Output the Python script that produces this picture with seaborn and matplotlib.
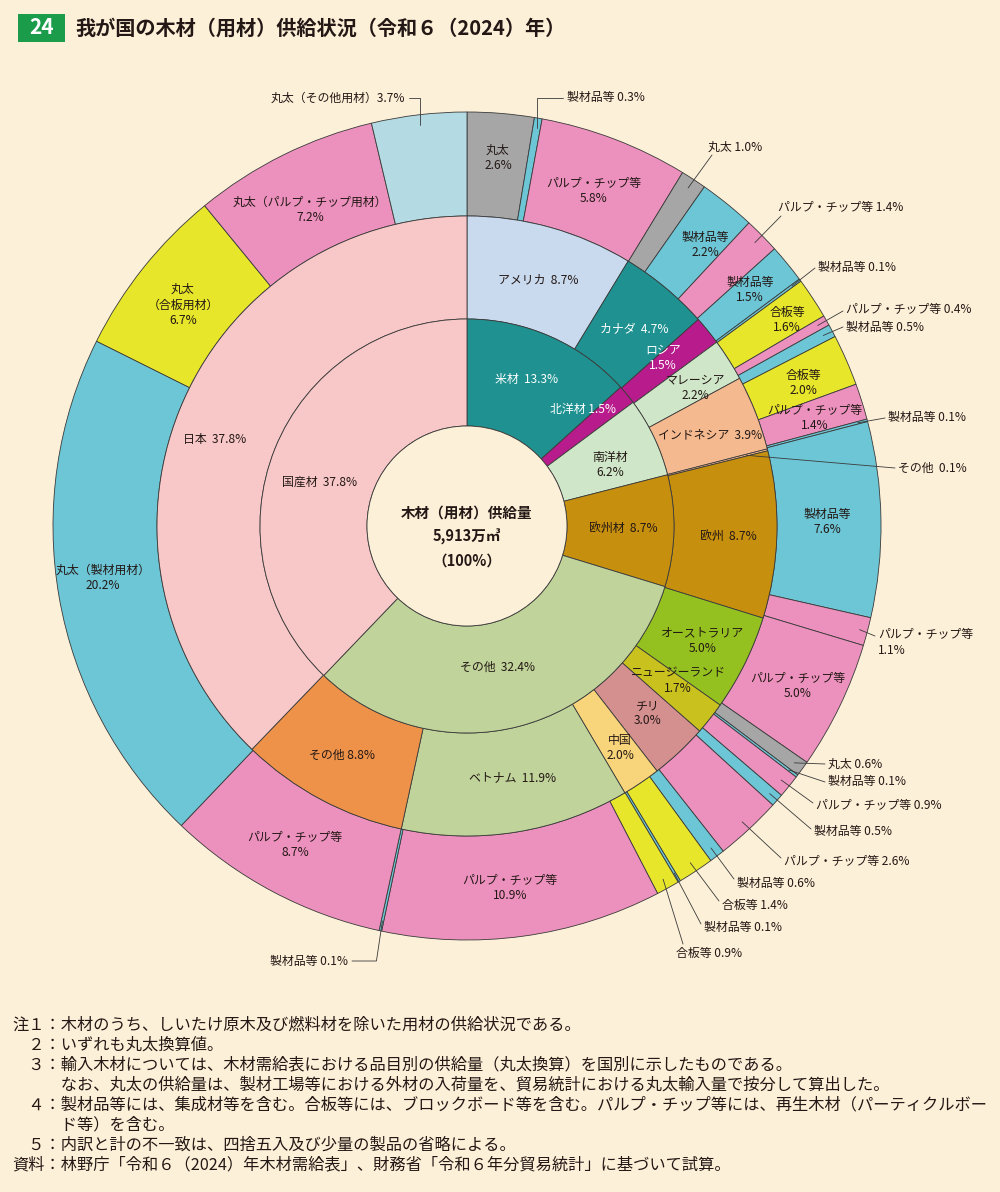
import numpy as np
import matplotlib
matplotlib.use("Agg")
import matplotlib.pyplot as plt
from matplotlib.patches import Rectangle, Circle
import seaborn as sns

# ---- data (percent of total supply) ----
inner_names = ['米材', '北洋材', '南洋材', '欧州材', 'その他', '国産材']
inner_vals = [13.3, 1.5, 6.2, 8.7, 32.4, 37.8]

mid_names = ['アメリカ', 'カナダ', 'ロシア', 'マレーシア', 'インドネシア', 'その他', '欧州',
             'オーストラリア', 'ニュージーランド', 'チリ', '中国', 'ベトナム', 'その他', '日本']
mid_vals = [8.7, 4.7, 1.5, 2.2, 3.9, 0.1, 8.7, 5.0, 1.7, 3.0, 2.0, 11.9, 8.8, 37.8]

outer_names = ['丸太', '製材品等', 'パルプ・チップ等',
               '丸太', '製材品等', 'パルプ・チップ等',
               '製材品等', '製材品等',
               '合板等', 'パルプ・チップ等', '製材品等',
               '合板等', 'パルプ・チップ等', '製材品等',
               '製材品等', 'パルプ・チップ等',
               'パルプ・チップ等',
               '丸太', '製材品等', 'パルプ・チップ等',
               '製材品等', 'パルプ・チップ等',
               '製材品等', '合板等',
               '製材品等', '合板等', 'パルプ・チップ等',
               '製材品等', 'パルプ・チップ等',
               '丸太（製材用材）', '丸太（合板用材）', '丸太（パルプ・チップ用材）', '丸太（その他用材）']
outer_vals = [2.6, 0.3, 5.8,
              1.0, 2.2, 1.4,
              1.5, 0.1,
              1.6, 0.4, 0.5,
              2.0, 1.4, 0.1,
              7.6, 1.1,
              5.0,
              0.6, 0.1, 0.9,
              0.5, 2.6,
              0.6, 1.4,
              0.1, 0.9, 10.9,
              0.1, 8.7,
              20.2, 6.7, 7.2, 3.7]

total_text = ['木材（用材）供給量', '5,913万㎥', '（100%）']

notes = ['注１：木材のうち、しいたけ原木及び燃料材を除いた用材の供給状況である。',
         '　２：いずれも丸太換算値。',
         '　３：輸入木材については、木材需給表における品目別の供給量（丸太換算）を国別に示したものである。',
         '　　　なお、丸太の供給量は、製材工場等における外材の入荷量を、貿易統計における丸太輸入量で按分して算出した。',
         '　４：製材品等には、集成材等を含む。合板等には、ブロックボード等を含む。パルプ・チップ等には、再生木材（パーティクルボー',
         '　　　ド等）を含む。',
         '　５：内訳と計の不一致は、四捨五入及び少量の製品の省略による。',
         '資料：林野庁「令和６（2024）年木材需給表」、財務省「令和６年分貿易統計」に基づいて試算。']

# ---- style ----
BG = '#fdf0d8'
INK = '#231815'
EDGE = '#3a3a3a'
TEAL = '#1e9190'
MAG = '#b81b8b'
cat_colors = {'丸太': '#a6a6a6', '製材品等': '#6cc6d6', 'パルプ・チップ等': '#ec91bd', '合板等': '#e7e62b',
              '丸太（製材用材）': '#6cc6d6', '丸太（合板用材）': '#e7e62b',
              '丸太（パルプ・チップ用材）': '#ec91bd', '丸太（その他用材）': '#b4dbe3'}
inner_colors = sns.color_palette([TEAL, MAG, '#cfe7c8', '#c78f0e', '#c0d39a', '#f8c8c8'])
mid_colors = sns.color_palette(['#c9d9ee', TEAL, MAG, '#cfe7c8', '#f5b98f', '#f5b98f', '#c78f0e',
                                '#94c11f', '#c9c21e', '#d48f8f', '#f8d47a', '#c0d39a', '#ee9249', '#f8c8c8'])
outer_colors = [cat_colors[n] for n in outer_names]

W, H = 1000, 1192
CX, CY = 467, 526
R_OUT, R_MID, R_IN, R_HOLE = 414, 310, 207, 100
FS = 8.6

sns.set_theme(style="white")
plt.rcParams['font.family'] = ['Noto Sans CJK JP', 'DejaVu Sans']


def py(y):
    return H - y


def label(x, y, s, color=INK, size=FS, **kw):
    kw.setdefault('ha', 'center')
    kw.setdefault('va', 'center')
    ax.text(x, py(y), s, color=color, fontsize=size, linespacing=1.25, **kw)


fig = plt.figure(figsize=(W / 100, H / 100), dpi=100, facecolor=BG)
ax = fig.add_axes([0, 0, 1, 1])
ax.set_facecolor(BG)

wp = dict(edgecolor=EDGE, linewidth=0.6)
cy = py(CY)
w_out, _ = ax.pie(outer_vals, radius=R_OUT, center=(CX, cy), startangle=90, counterclock=False,
                  colors=outer_colors, wedgeprops=dict(width=R_OUT - R_MID, **wp))
w_mid, _ = ax.pie(mid_vals, radius=R_MID, center=(CX, cy), startangle=90, counterclock=False,
                  colors=mid_colors, wedgeprops=dict(width=R_MID - R_IN, **wp))
w_in, _ = ax.pie(inner_vals, radius=R_IN, center=(CX, cy), startangle=90, counterclock=False,
                 colors=inner_colors, wedgeprops=dict(width=R_IN - R_HOLE, **wp))
ax.add_patch(Circle((CX, cy), R_HOLE, facecolor=BG, edgecolor=EDGE, linewidth=0.6, zorder=3))

ax.set_xlim(0, W)
ax.set_ylim(0, H)
ax.set_aspect('equal')
ax.axis('off')


def anchor(w, r):
    a = np.deg2rad((w.theta1 + w.theta2) / 2)
    return CX + r * np.cos(a), cy + r * np.sin(a)


# ---- labels inside the rings ----
inner_pos = {0: (527, 380, '  '), 1: (583, 409, ' '), 2: (610, 465, '\n'), 3: (623, 528, '  '),
             4: (498, 667, '  '), 5: (320, 482, '  ')}
for i, (x, y, sep) in inner_pos.items():
    label(x, y, f'{inner_names[i]}{sep}{inner_vals[i]}%', color='white' if i < 2 else INK)

mid_pos = {0: (538, 280, '  '), 1: (634, 330, '  '), 2: (663, 358, '\n'), 3: (695, 388, '\n'),
           4: (710, 435, '  '), 6: (728, 536, '  '), 7: (703, 641, '\n'), 8: (678, 681, '\n'),
           9: (648, 713, '\n'), 10: (620, 748, '\n'), 11: (513, 778, '  '), 12: (342, 755, ' '),
           13: (215, 440, '  ')}
for i, (x, y, sep) in mid_pos.items():
    label(x, y, f'{mid_names[i]}{sep}{mid_vals[i]}%', color='white' if i in (1, 2) else INK)

outer_pos = {0: (498, 158), 2: (594, 191), 4: (705, 245), 6: (750, 290), 8: (787, 320),
             11: (803, 383), 12: (815, 418), 14: (827, 522), 16: (798, 686), 26: (510, 888),
             28: (295, 845), 29: (103, 578), 30: (183, 305), 31: (310, 210)}
for i, (x, y) in outer_pos.items():
    name = outer_names[i]
    if i == 30:
        name = '丸太\n（合板用材）'
    label(x, y, f'{name}\n{outer_vals[i]}%')

# ---- callouts with leader lines ----
# (outer index, text x, text y, ha, line start x, line start y, elbow)
callouts = [(1, 567, 98, 'left', 563, 98, True),
            (3, 708, 147, 'left', 712, 155, False),
            (5, 778, 208, 'left', 781, 216, False),
            (7, 818, 268, 'left', 815, 268, False),
            (9, 846, 310, 'left', 843, 311, False),
            (10, 846, 327, 'left', 843, 327, False),
            (13, 888, 418, 'left', 885, 418, False),
            (17, 828, 764, 'left', 825, 764, False),
            (18, 828, 782, 'left', 825, 782, False),
            (19, 816, 806, 'left', 813, 803, False),
            (20, 814, 832, 'left', 811, 829, False),
            (21, 784, 862, 'left', 781, 858, False),
            (22, 737, 883, 'left', 734, 879, False),
            (23, 722, 905, 'left', 719, 901, False),
            (24, 704, 928, 'left', 701, 924, False),
            (25, 676, 953, 'left', 683, 944, False),
            (27, 348, 961, 'right', 352, 961, True),
            (32, 405, 98, 'right', 409, 98, True)]
for i, tx, ty, ha, sx, sy, elbow in callouts:
    sep = '' if outer_names[i].endswith('）') else ' '
    label(tx, ty, f'{outer_names[i]}{sep}{outer_vals[i]}%', ha=ha)
    axx, ayy = anchor(w_out[i], R_OUT - 10)
    if elbow:
        ex = axx if ha == 'left' or i == 32 else axx - 6
        xs, ys = [sx, ex, axx], [py(sy), py(sy), ayy]
    else:
        xs, ys = [sx, axx], [py(sy), ayy]
    ax.plot(xs, ys, color=EDGE, lw=0.6, zorder=4)

# two-line callout for 1.1%
label(878, 628, f'{outer_names[15]}\n{outer_vals[15]}%', ha='left', va='top')
axx, ayy = anchor(w_out[15], R_OUT - 8)
ax.plot([875, axx], [py(636), ayy], color=EDGE, lw=0.6, zorder=4)

# middle ring その他 0.1%
label(898, 468, f'{mid_names[5]}  {mid_vals[5]}%', ha='left')
axx, ayy = anchor(w_mid[5], R_MID - 22)
ax.plot([895, axx], [py(468), ayy], color=EDGE, lw=0.6, zorder=4)

# ---- centre ----
for k, s in enumerate(total_text):
    ax.text(CX, py(513 + 24 * k), s, ha='center', va='center', fontsize=10.5,
            fontweight='bold', color=INK, zorder=5)

# ---- title ----
ax.add_patch(Rectangle((18, py(42)), 47, 28, facecolor='#1b9c4b', edgecolor='none'))
ax.text(41.5, py(28), '24', ha='center', va='center', color='white', fontsize=15, fontweight='bold')
ax.text(75, py(28), '我が国の木材（用材）供給状況（令和６（2024）年）', ha='left', va='center',
        color=INK, fontsize=14.5, fontweight='bold')

# ---- notes ----
for k, s in enumerate(notes):
    ax.text(12, py(1025 + 20 * k), s, ha='left', va='center', fontsize=11.7, color=INK)

fig.savefig('out.png', dpi=100, facecolor=BG)
